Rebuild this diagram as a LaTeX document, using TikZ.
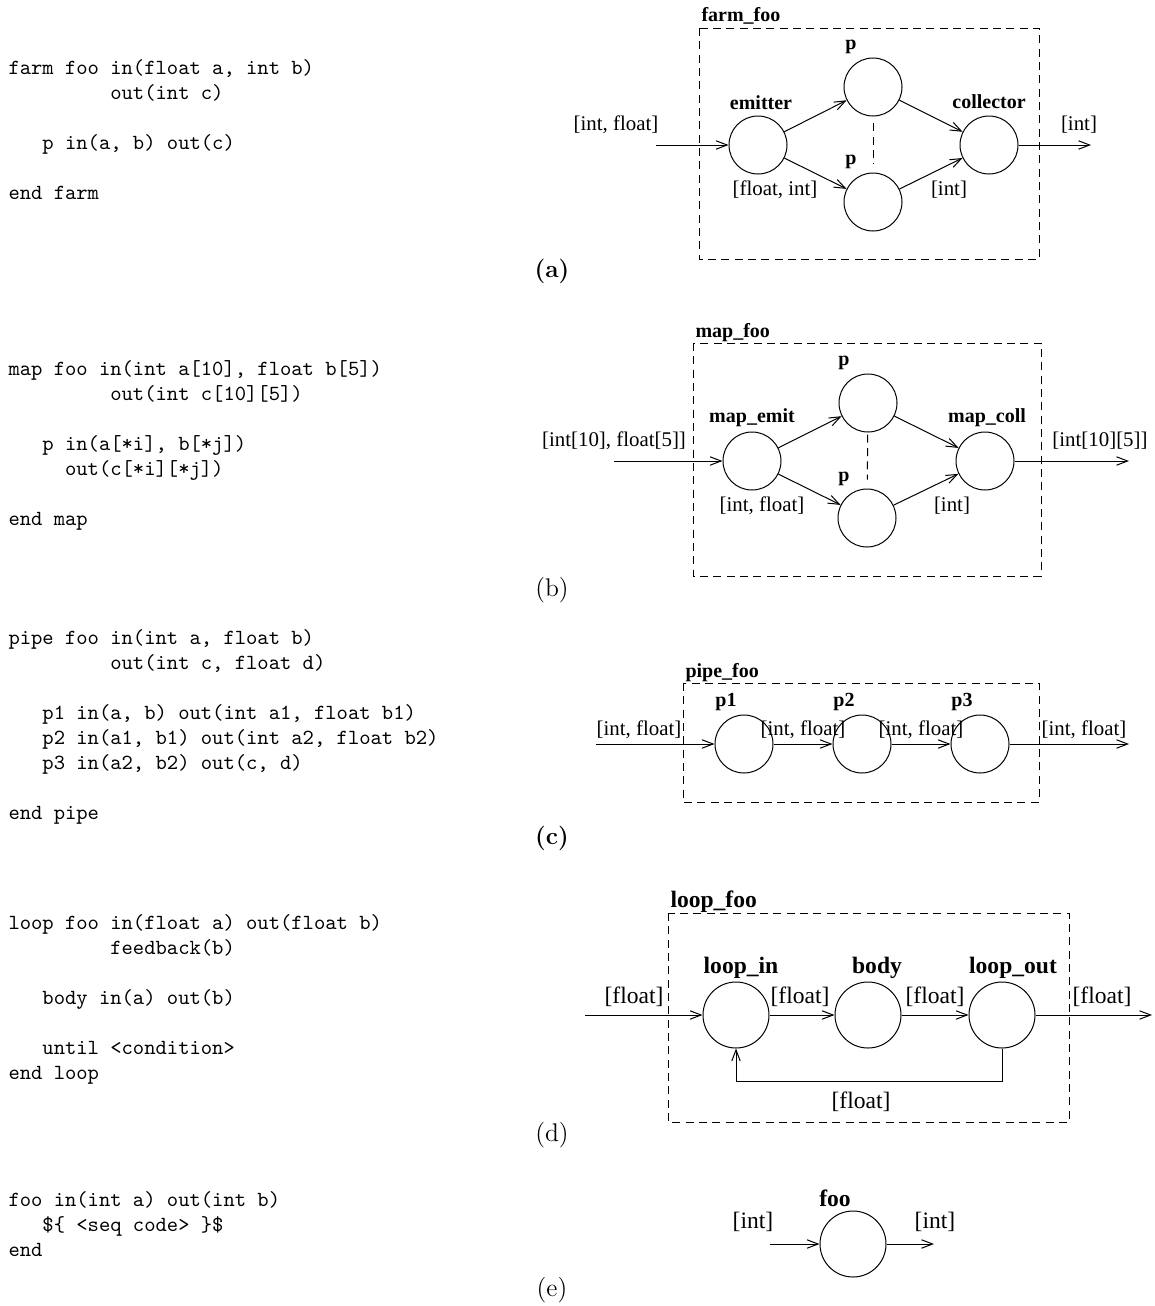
\documentclass[tikz,border=0pt]{standalone}
\usepackage{fontspec}
\newfontfamily\lbf{Liberation Serif}
\usetikzlibrary{arrows.meta}

\tikzset{
  proc/.style={draw, circle, inner sep=0pt, minimum size=26.1pt},
  bigproc/.style={draw, circle, inner sep=0pt, minimum size=29.7pt},
  dashbox/.style={draw, dash pattern=on 3.6pt off 2.4pt},
  lbl/.style={font=\lbf\fontsize{9.4}{11}\selectfont, inner sep=0pt},
  lblbig/.style={font=\lbf\fontsize{10.6}{12}\selectfont, inner sep=0pt},
  nm/.style={font=\lbf\bfseries\fontsize{9}{11}\selectfont, inner sep=0pt},
  nmbig/.style={font=\lbf\bfseries\fontsize{10.6}{12}\selectfont, inner sep=0pt},
  code/.style={font=\ttfamily\fontsize{9.7}{11.25}\selectfont, align=left, anchor=north west, inner sep=0pt},
  subcap/.style={font=\fontsize{11.5}{13}\selectfont, inner sep=0pt},
}

\begin{document}
\begin{tikzpicture}[x=0.45pt,y=-0.45pt,line width=0.45pt,>={Straight Barb[length=5pt,width=3.8pt]}]
\useasboundingbox (0,0) rectangle (1154,1306);

% source of the five skeletons
\node[code] (srcfarm) at (8,59) {farm foo in(float a, int b)\\
~~~~~~~~~out(int c)\\[11.25pt]
~~~p in(a, b) out(c)\\[11.25pt]
end farm};
\node[code] (srcmap) at (8,360) {map foo in(int a[10], float b[5])\\
~~~~~~~~~out(int c[10][5])\\[11.25pt]
~~~p in(a[*i], b[*j])\\
~~~~~out(c[*i][*j])\\[11.25pt]
end map};
\node[code] (srcpipe) at (8,629) {pipe foo in(int a, float b)\\
~~~~~~~~~out(int c, float d)\\[11.25pt]
~~~p1 in(a, b) out(int a1, float b1)\\
~~~p2 in(a1, b1) out(int a2, float b2)\\
~~~p3 in(a2, b2) out(c, d)\\[11.25pt]
end pipe};
\node[code] (srcloop) at (8,914) {loop foo in(float a) out(float b)\\
~~~~~~~~~feedback(b)\\[11.25pt]
~~~body in(a) out(b)\\[11.25pt]
~~~until <condition>\\
end loop};
\node[code] (srcseq) at (8,1191) {foo in(int a) out(int b)\\
~~~\$\{ <seq code> \}\$\\
end};

% (a) farm
\draw[dashbox] (699,28) rectangle (1039,259);
\node[nm, anchor=west] (farmname) at (701,16) {farm\_foo};
\node[proc] (emit) at (758,145) {};
\node[proc] (pa1) at (873,87) {};
\node[proc] (pa2) at (873,202) {};
\node[proc] (coll) at (989,145) {};
\coordinate (ain) at (656,145);
\coordinate (aout) at (1091,145);
\node[nm] (emitname) at (761,103) {emitter};
\node[nm] (collname) at (989,102) {collector};
\node[nm] (pa1name) at (851,47) {p};
\node[nm] (pa2name) at (851,162) {p};
\node[lbl] (ainlbl) at (616,125) {[int, float]};
\node[lbl] (emitlbl) at (775,190) {[float, int]};
\node[lbl] (colllbl) at (949,190) {[int]};
\node[lbl] (aoutlbl) at (1079,125) {[int]};
\draw[->] (ain) -- (emit);
\draw[->] (emit) -- (pa1);
\draw[->] (emit) -- (pa2);
\draw[->] (pa1) -- (coll);
\draw[->] (pa2) -- (coll);
\draw[->] (coll) -- (aout);
\draw[dashbox, shorten <=3pt, shorten >=4pt] (pa1) -- (pa2);
\node[subcap, font=\bfseries\fontsize{11}{13}\selectfont] (capa) at (552,271) {(a)};

% (b) map
\draw[dashbox] (693,343) rectangle (1041,576);
\node[nm, anchor=west] (mapname) at (695,333) {map\_foo};
\node[proc] (memit) at (752,461) {};
\node[proc] (pb1) at (868,403) {};
\node[proc] (pb2) at (867,518) {};
\node[proc] (mcoll) at (985,461) {};
\coordinate (bin) at (614,461);
\coordinate (bout) at (1129,461);
\node[nm] (memitname) at (752,418) {map\_emit};
\node[nm] (mcollname) at (987,418) {map\_coll};
\node[nm] (pb1name) at (844,363) {p};
\node[nm] (pb2name) at (844,479) {p};
\node[lbl] (binlbl) at (614,441) {[int[10], float[5]]};
\node[lbl] (memitlbl) at (762,506) {[int, float]};
\node[lbl] (mcolllbl) at (952,506) {[int]};
\node[lbl] (boutlbl) at (1100,441) {[int[10][5]]};
\draw[->] (bin) -- (memit);
\draw[->] (memit) -- (pb1);
\draw[->] (memit) -- (pb2);
\draw[->] (pb1) -- (mcoll);
\draw[->] (pb2) -- (mcoll);
\draw[->] (mcoll) -- (bout);
\draw[dashbox, shorten <=1pt, shorten >=4pt] (pb1) -- (pb2);
\node[subcap] (capb) at (552,590) {(b)};

% (c) pipe
\draw[dashbox] (683,683) rectangle (1039,802);
\node[nm, anchor=west] (pipename) at (685,673) {pipe\_foo};
\node[proc] (p1) at (744,744) {};
\node[proc] (p2) at (862,744) {};
\node[proc] (p3) at (980,744) {};
\coordinate (cin) at (596,744);
\coordinate (cout) at (1129,744);
\node[nm] (p1name) at (726,702) {p1};
\node[nm] (p2name) at (844,702) {p2};
\node[nm] (p3name) at (962,702) {p3};
\node[lbl] (cinlbl) at (639,730) {[int, float]};
\node[lbl] (p1lbl) at (803,730) {[int, float]};
\node[lbl] (p2lbl) at (921,730) {[int, float]};
\node[lbl] (coutlbl) at (1084,730) {[int, float]};
\draw[->] (cin) -- (p1);
\draw[->] (p1) -- (p2);
\draw[->] (p2) -- (p3);
\draw[->] (p3) -- (cout);
\node[subcap, font=\bfseries\fontsize{11}{13}\selectfont] (capc) at (552,838) {(c)};

% (d) loop
\draw[dashbox] (668,913) rectangle (1069,1122);
\node[nmbig, anchor=west] (loopname) at (670,902) {loop\_foo};
\node[bigproc] (lin) at (736,1015) {};
\node[bigproc] (body) at (868,1015) {};
\node[bigproc] (lout) at (1002,1015) {};
\coordinate (din) at (585,1015);
\coordinate (dout) at (1152,1015);
\node[nmbig] (linname) at (741,968) {loop\_in};
\node[nmbig] (bodyname) at (877,968) {body};
\node[nmbig] (loutname) at (1013,968) {loop\_out};
\node[lblbig] (dinlbl) at (634,997) {[float]};
\node[lblbig] (linlbl) at (800,997) {[float]};
\node[lblbig] (bodylbl) at (935,997) {[float]};
\node[lblbig] (doutlbl) at (1102,997) {[float]};
\node[lblbig] (backlbl) at (861,1102) {[float]};
\draw[->] (din) -- (lin);
\draw[->] (lin) -- (body);
\draw[->] (body) -- (lout);
\draw[->] (lout) -- (dout);
\draw[->] (lout.south) -- ++(0,33) -| (lin.south);
\node[subcap] (capd) at (552,1135) {(d)};

% (e) sequential
\node[bigproc] (foo) at (853,1244) {};
\coordinate (ein) at (770,1244);
\coordinate (eout) at (934,1244);
\node[nmbig] (fooname) at (835,1198) {foo};
\node[lblbig] (einlbl) at (753,1222) {[int]};
\node[lblbig] (eoutlbl) at (935,1222) {[int]};
\draw[->] (ein) -- (foo);
\draw[->] (foo) -- (eout);
\node[subcap] (cape) at (552,1290) {(e)};
\end{tikzpicture}
\end{document}
